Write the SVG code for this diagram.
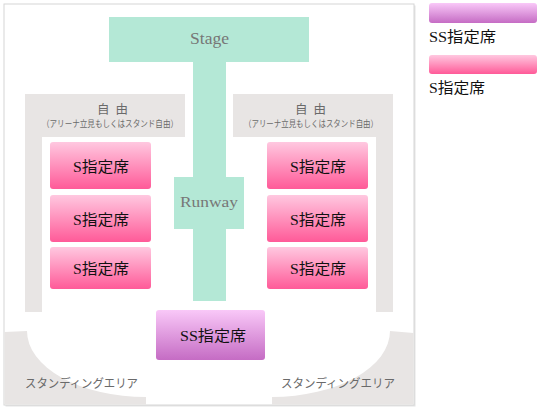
<svg xmlns="http://www.w3.org/2000/svg" width="538" height="410" viewBox="0 0 538 410">
<defs>
<linearGradient id="gS" x1="0" y1="0" x2="0" y2="1">
<stop offset="0" stop-color="#ffc8e0"/>
<stop offset="1" stop-color="#ff5a98"/>
</linearGradient>
<linearGradient id="gSS" x1="0" y1="0" x2="0" y2="1">
<stop offset="0" stop-color="#f9c8f8"/>
<stop offset="1" stop-color="#c56cc4"/>
</linearGradient>
<style>
.grey{fill:#e8e5e4}
.mint{fill:#b4e8d6}
.s{fill:url(#gS)}
.ss{fill:url(#gSS)}
.lbl{font-family:"Liberation Serif","Noto Sans CJK JP",serif;font-size:15px;fill:#111;text-anchor:middle}
.gt{font-family:"Noto Sans CJK JP","Noto Sans",sans-serif;fill:#6a6a6a;text-anchor:middle}
.en{font-family:"Liberation Serif",serif;fill:#777;text-anchor:middle}
.leg{font-family:"Liberation Serif","Noto Sans CJK JP",serif;font-size:15px;fill:#111}
</style>
</defs>
<rect width="538" height="410" fill="#fff"/>
<!-- frame -->
<rect x="5.5" y="5.5" width="410" height="401" fill="#e4e4e4"/>
<rect x="4" y="4" width="410" height="401" fill="#fff" stroke="#d6d6d6" stroke-width="1"/>

<!-- standing areas -->
<g id="standing-left">
<path class="grey" d="M4.5,332 L27,331 A119,66 0 0 0 146,397 L146,404.5 L4.5,404.5 Z"/>
<text class="gt" x="81.5" y="388" font-size="12" textLength="113" lengthAdjust="spacingAndGlyphs">スタンディングエリア</text>
</g>
<g id="standing-right">
<path class="grey" d="M413.5,333 L390,331 A119,66 0 0 1 272,397 L272,404.5 L413.5,404.5 Z"/>
<text class="gt" x="338" y="388" font-size="12" textLength="114" lengthAdjust="spacingAndGlyphs">スタンディングエリア</text>
</g>

<!-- free areas -->
<g id="free-left">
<path class="grey" d="M25,94 H185 V137 H42 V312 H25 Z"/>
<text class="gt" x="112.5" y="114" font-size="12.5" textLength="31" lengthAdjust="spacing">自由</text>
<text class="gt" x="110" y="127" font-size="9" textLength="136" lengthAdjust="spacingAndGlyphs">（アリーナ立見もしくはスタンド自由）</text>
</g>
<g id="free-right">
<path class="grey" d="M233,94 H393 V312 H376 V137 H233 Z"/>
<text class="gt" x="310.5" y="114" font-size="12.5" textLength="31" lengthAdjust="spacing">自由</text>
<text class="gt" x="311" y="127" font-size="9" textLength="134" lengthAdjust="spacingAndGlyphs">（アリーナ立見もしくはスタンド自由）</text>
</g>

<!-- stage & runway -->
<g id="stage">
<rect class="mint" x="193" y="60" width="33" height="241"/>
<rect class="mint" x="109" y="17" width="200" height="45"/>
<text class="en" x="209.5" y="44" font-size="16" textLength="39" lengthAdjust="spacingAndGlyphs">Stage</text>
</g>
<g id="runway">
<rect class="mint" x="174" y="177" width="70" height="52"/>
<text class="en" x="209" y="207" font-size="15" textLength="58" lengthAdjust="spacingAndGlyphs">Runway</text>
</g>

<!-- S seats left -->
<g id="s-left-1"><rect class="s" x="50" y="142" width="101" height="47" rx="3"/><text class="lbl" x="101" y="172" textLength="56" lengthAdjust="spacingAndGlyphs">S指定席</text></g>
<g id="s-left-2"><rect class="s" x="50" y="195" width="101" height="47" rx="3"/><text class="lbl" x="101" y="225" textLength="56" lengthAdjust="spacingAndGlyphs">S指定席</text></g>
<g id="s-left-3"><rect class="s" x="50" y="247" width="101" height="42" rx="3"/><text class="lbl" x="101" y="274" textLength="56" lengthAdjust="spacingAndGlyphs">S指定席</text></g>
<!-- S seats right -->
<g id="s-right-1"><rect class="s" x="267" y="142" width="101" height="47" rx="3"/><text class="lbl" x="318" y="172" textLength="56" lengthAdjust="spacingAndGlyphs">S指定席</text></g>
<g id="s-right-2"><rect class="s" x="267" y="195" width="101" height="47" rx="3"/><text class="lbl" x="318" y="225" textLength="56" lengthAdjust="spacingAndGlyphs">S指定席</text></g>
<g id="s-right-3"><rect class="s" x="267" y="247" width="101" height="42" rx="3"/><text class="lbl" x="318" y="274" textLength="56" lengthAdjust="spacingAndGlyphs">S指定席</text></g>

<!-- SS seats -->
<g id="ss-center"><rect class="ss" x="156" y="310" width="109" height="50" rx="3"/><text class="lbl" x="213" y="341" textLength="66" lengthAdjust="spacingAndGlyphs">SS指定席</text></g>

<!-- legend -->
<g id="legend-ss"><rect class="ss" x="429" y="3" width="108" height="20" rx="3"/><text class="leg" x="429" y="42" textLength="67" lengthAdjust="spacingAndGlyphs">SS指定席</text></g>
<g id="legend-s"><rect class="s" x="429" y="55" width="108" height="19" rx="3"/><text class="leg" x="429" y="93" textLength="56" lengthAdjust="spacingAndGlyphs">S指定席</text></g>

<g id="connectors"></g>
</svg>
